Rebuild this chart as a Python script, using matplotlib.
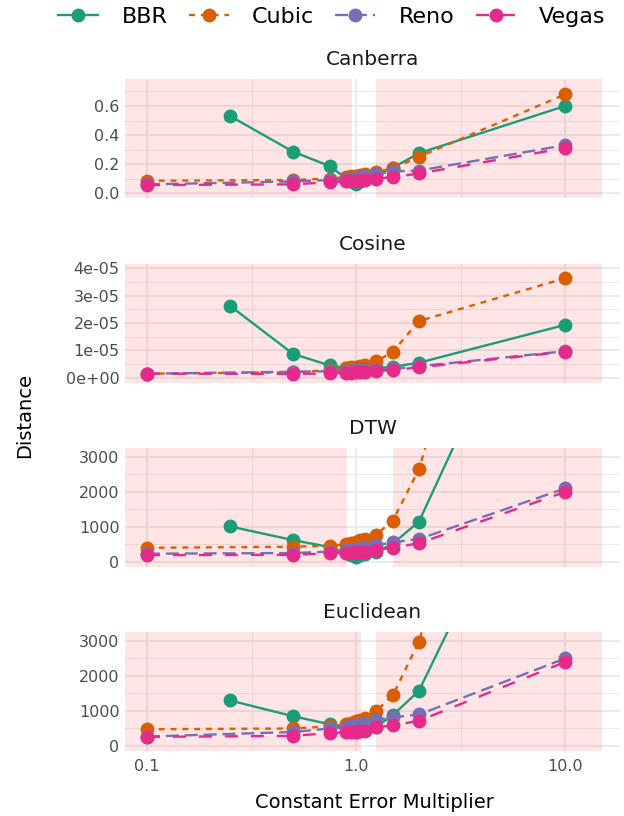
import numpy as np
import matplotlib
matplotlib.use('Agg')
import matplotlib.pyplot as plt
from matplotlib.ticker import FixedLocator, FuncFormatter, NullFormatter

# multiplier values (BBR has no 0.1 run, the others no 0.25 run)
X_BBR = [0.25, 0.5, 0.75, 0.9, 0.95, 1.0, 1.05, 1.1, 1.25, 1.5, 2.0, 10.0]
X_OTHER = [0.1, 0.5, 0.75, 0.9, 0.95, 1.0, 1.05, 1.1, 1.25, 1.5, 2.0, 10.0]

METRICS = ['Canberra', 'Cosine', 'DTW', 'Euclidean']
ALGOS = ['BBR', 'Cubic', 'Reno', 'Vegas']

canberra_bbr = [0.53, 0.285, 0.185, 0.10, 0.08, 0.06, 0.08, 0.10, 0.13, 0.175, 0.275, 0.60]
canberra_cubic = [0.085, 0.09, 0.10, 0.11, 0.115, 0.12, 0.125, 0.13, 0.145, 0.17, 0.25, 0.68]
canberra_reno = [0.06, 0.08, 0.09, 0.095, 0.10, 0.105, 0.11, 0.115, 0.13, 0.15, 0.155, 0.33]
canberra_vegas = [0.055, 0.06, 0.075, 0.08, 0.08, 0.085, 0.085, 0.09, 0.10, 0.11, 0.135, 0.31]

cosine_bbr = [2.62e-5, 0.87e-5, 0.45e-5, 0.35e-5, 0.33e-5, 0.32e-5, 0.33e-5, 0.35e-5, 0.36e-5, 0.40e-5, 0.55e-5, 1.93e-5]
cosine_cubic = [0.15e-5, 0.2e-5, 0.28e-5, 0.35e-5, 0.38e-5, 0.40e-5, 0.43e-5, 0.45e-5, 0.6e-5, 0.95e-5, 2.07e-5, 3.63e-5]
cosine_reno = [0.15e-5, 0.22e-5, 0.24e-5, 0.25e-5, 0.26e-5, 0.27e-5, 0.28e-5, 0.29e-5, 0.30e-5, 0.32e-5, 0.42e-5, 0.97e-5]
cosine_vegas = [0.15e-5, 0.14e-5, 0.16e-5, 0.18e-5, 0.19e-5, 0.2e-5, 0.21e-5, 0.22e-5, 0.25e-5, 0.28e-5, 0.38e-5, 0.95e-5]

dtw_bbr = [1010, 620, 420, 250, 180, 150, 180, 230, 280, 520, 1150, 10200]
dtw_cubic = [400, 430, 460, 500, 540, 580, 620, 660, 780, 1180, 2650, 17000]
dtw_reno = [230, 250, 290, 330, 350, 370, 390, 410, 470, 560, 650, 2100]
dtw_vegas = [190, 200, 240, 250, 260, 270, 280, 290, 340, 400, 530, 2000]

euclid_bbr = [1300, 850, 620, 480, 430, 400, 420, 460, 550, 880, 1580, 10200]
euclid_cubic = [480, 500, 560, 620, 660, 700, 750, 800, 1000, 1450, 2980, 18000]
euclid_reno = [270, 400, 500, 540, 570, 600, 630, 660, 740, 820, 900, 2500]
euclid_vegas = [260, 290, 370, 390, 400, 410, 420, 430, 530, 590, 720, 2400]

# shaded ranges per metric: left band ends at, right band starts at / ends at
band_left_end = [0.955, 1.03, 0.905, 1.06]
band_right_start = [1.245, 1.03, 1.5, 1.25]
band_right_end = [15.0, 15.0, 15.0, 15.0]

DATA = {
    'Canberra': [canberra_bbr, canberra_cubic, canberra_reno, canberra_vegas],
    'Cosine': [cosine_bbr, cosine_cubic, cosine_reno, cosine_vegas],
    'DTW': [dtw_bbr, dtw_cubic, dtw_reno, dtw_vegas],
    'Euclidean': [euclid_bbr, euclid_cubic, euclid_reno, euclid_vegas],
}

COLORS = ['#1B9E77', '#D95F02', '#7570B3', '#E7298A']
DASHES = [None, (2.5, 2.5), (5.5, 2.5), (5.5, 5.5)]

YLIMS = [(-0.034, 0.786), (-0.19e-5, 4.15e-5), (-150, 3257), (-143, 3257)]
YMAJOR = [[0, 0.2, 0.4, 0.6], [0, 1e-5, 2e-5, 3e-5, 4e-5], [0, 1000, 2000, 3000], [0, 1000, 2000, 3000]]
YMINOR = [[0.1, 0.3, 0.5, 0.7], [0.5e-5, 1.5e-5, 2.5e-5, 3.5e-5], [500, 1500, 2500], [500, 1500, 2500]]


def fmt_canberra(v, pos):
    return '%.1f' % v


def fmt_cosine(v, pos):
    if v == 0:
        return '0e+00'
    return '%.0e' % v


def fmt_int(v, pos):
    return '%d' % round(v)


FORMATTERS = [fmt_canberra, fmt_cosine, fmt_int, fmt_int]

plt.rcParams['font.family'] = ['DejaVu Sans']

fig = plt.figure(figsize=(6.24, 8.16), dpi=100)
W, H = 624.0, 816.0
panel_top = [79, 264, 448, 632]
panel_h = 119
left, right = 125, 620

axes = []
for i, metric in enumerate(METRICS):
    ax = fig.add_axes([left / W, 1 - (panel_top[i] + panel_h) / H, (right - left) / W, panel_h / H])
    axes.append(ax)
    ax.set_xscale('log')
    ax.set_xlim(0.0785, 18.3)
    ax.set_ylim(*YLIMS[i])
    for s in ax.spines.values():
        s.set_visible(False)

    ax.xaxis.set_major_locator(FixedLocator([0.1, 1.0, 10.0]))
    ax.xaxis.set_minor_locator(FixedLocator([10 ** -0.5, 10 ** 0.5]))
    ax.xaxis.set_minor_formatter(NullFormatter())
    ax.yaxis.set_major_locator(FixedLocator(YMAJOR[i]))
    ax.yaxis.set_minor_locator(FixedLocator(YMINOR[i]))
    ax.yaxis.set_major_formatter(FuncFormatter(FORMATTERS[i]))
    ax.grid(True, which='major', color='#EBEBEB', lw=1.5, zorder=0)
    ax.grid(True, which='minor', color='#EBEBEB', lw=0.75, zorder=0)
    ax.set_axisbelow(True)
    ax.tick_params(which='both', length=0, labelsize=11.5, colors='#4D4D4D', pad=4)
    if i < 3:
        ax.tick_params(axis='x', labelbottom=False)
    else:
        ax.xaxis.set_major_formatter(FuncFormatter(lambda v, p: '%.1f' % v))
        ax.tick_params(axis='x', pad=6)

    ax.axvspan(0.01, band_left_end[i], color='red', alpha=0.1, lw=0, zorder=1)
    ax.axvspan(band_right_start[i], band_right_end[i], color='red', alpha=0.1, lw=0, zorder=1)

    for j, algo in enumerate(ALGOS):
        xs = X_BBR if algo == 'BBR' else X_OTHER
        line, = ax.plot(xs, DATA[metric][j], color=COLORS[j], lw=1.7, marker='o', ms=9,
                        label=algo, zorder=3 + j)
        if DASHES[j] is not None:
            line.set_dashes(DASHES[j])

    ax.set_title(metric, fontsize=14.5, color='#1A1A1A', pad=10)

handles, labels = axes[0].get_legend_handles_labels()
fig.legend(handles, labels, loc='center', bbox_to_anchor=(332 / W, 1 - 17 / H), ncol=4,
           frameon=False, fontsize=16, handlelength=1.8, columnspacing=0.95, handletextpad=1.05)

fig.text(25 / W, 1 - 415 / H, 'Distance', rotation=90, ha='center', va='center', fontsize=14)
fig.text(374 / W, 1 - 803 / H, 'Constant Error Multiplier', ha='center', va='center', fontsize=14)

fig.savefig('out.png', dpi=100)
